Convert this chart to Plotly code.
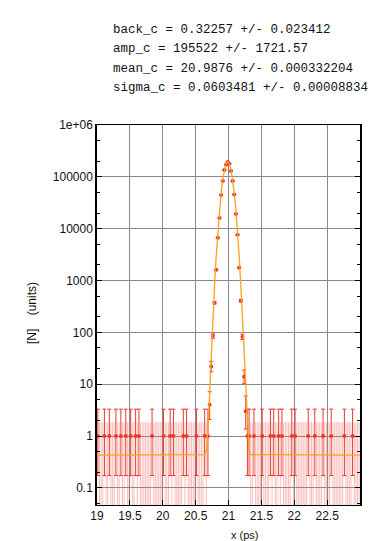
import plotly.graph_objects as go

# ---- data ----
X_MIN = 19.0
BIN_WIDTH = 0.025

left_bkg_counts = [1,0,0,0,1,0,0,1,0,0, 0,1,0,0,1,0,0,1,0,0,
                   1,0,0,1,0,1,0,0,0,0, 0,0,0,1,0,0,0,0,0,0,
                   1,0,0,0,1,0,1,0,0,0, 0,0,1,0,1,0,0,0,0,0,
                   1,0,0,0,0,1,0]
peak_counts = [1, 4, 22, 86, 372, 1607, 6650, 16100, 44800, 83400, 136000, 172000,
               193800, 178000, 130000, 83000, 45500, 19300, 7600, 1760, 406, 82, 14, 3, 1]
right_bkg_counts = [1,0,0,1,0,0,0,0,1,0, 0,0,0,1,0,1,0,0,1,0,
                    1,0,0,0,0,0,1,0,1,0, 0,0,0,0,0,0,1,0,0,0,
                    1,0,0,0,0,1,0,0,0,0, 1,0,0,0,0,0,0,0,1,0,
                    0,0,0,1,0,0,0,0]

fit_x = [19.0, 20.6375, 20.6625, 20.6875, 20.7125, 20.7375, 20.7625, 20.7875, 20.8125,
         20.8375, 20.8625, 20.8875, 20.9125, 20.9375, 20.9625, 20.9875, 21.0125, 21.0375,
         21.0625, 21.0875, 21.1125, 21.1375, 21.1625, 21.1875, 21.2125, 21.2375, 21.2625,
         21.2875, 21.3125, 21.3375, 23.0]
fit_y = [0.43, 0.44, 0.53, 1.25, 6.3, 36.5, 185, 797, 2892, 8840, 22750, 49300, 89970,
         138200, 178950, 195000, 178950, 138200, 89970, 49300, 22750, 8840, 2892, 797,
         185, 36.5, 6.3, 1.25, 0.53, 0.44, 0.43]

param_lines = ["back_c = 0.32257 +/- 0.023412",
               "amp_c = 195522 +/- 1721.57",
               "mean_c = 20.9876 +/- 0.000332204",
               "sigma_c = 0.0603481 +/- 0.00008834"]

x_tickvals = [19, 19.5, 20, 20.5, 21, 21.5, 22, 22.5]
x_ticktext = ["19", "19.5", "20", "20.5", "21", "21.5", "22", "22.5"]
y_tickvals = [0.1, 1, 10, 100, 1000, 10000, 100000, 1000000]
y_ticktext = ["0.1", "1", "10", "100", "1000", "10000", "100000", "1e+06"]

# ---- derived ----
counts = left_bkg_counts + peak_counts + right_bkg_counts
centers = [X_MIN + BIN_WIDTH * (i + 0.5) for i in range(len(counts))]

POISSON = {0: (0.0, 1.841), 1: (0.173, 3.300), 2: (0.708, 4.638),
           3: (1.367, 5.918), 4: (2.086, 7.163), 5: (2.840, 8.382)}

def interval(n):
    if n in POISSON:
        return POISSON[n]
    s = n ** 0.5
    return (n - s, n + s + 1)

zx, zy = [], []
px, py, pup, plo = [], [], [], []
for c, n in zip(centers, counts):
    lo, hi = interval(n)
    if n == 0:
        zx += [c, c, None]
        zy += [0.005, hi, None]
    else:
        px.append(c)
        py.append(n)
        pup.append(hi - n)
        plo.append(n - lo)

RED = "#e8392b"
fig = go.Figure()
fig.add_trace(go.Scatter(x=zx, y=zy, mode="lines",
                         line=dict(color="rgba(240,90,90,0.40)", width=1),
                         hoverinfo="skip", showlegend=False))
fig.add_trace(go.Scatter(x=px, y=py, mode="markers",
                         marker=dict(color=RED, size=4, symbol="circle"),
                         error_y=dict(type="data", symmetric=False, array=pup, arrayminus=plo,
                                      color=RED, thickness=1, width=2),
                         showlegend=False))
fig.add_trace(go.Scatter(x=fit_x, y=fit_y, mode="lines",
                         line=dict(color="#ffa31a", width=1.3), showlegend=False))

annos = []
for i, t in enumerate(param_lines):
    annos.append(dict(text=t, xref="paper", yref="paper",
                      x=(103 - 89) / 263, y=(497 - (22 + 19.3 * i)) / 380,
                      xanchor="left", yanchor="middle", showarrow=False,
                      font=dict(family="Liberation Mono", size=12.5, color="#111")))
annos.append(dict(text="x (ps)", xref="paper", yref="paper", x=(237 - 89) / 263,
                  y=(497 - 527) / 380, xanchor="center", yanchor="middle", showarrow=False,
                  font=dict(family="Liberation Sans", size=11, color="#111")))
annos.append(dict(text="[N]    (units)", xref="paper", yref="paper", x=(24 - 89) / 263,
                  y=(497 - 305) / 380, xanchor="center", yanchor="middle", showarrow=False,
                  textangle=-90,
                  font=dict(family="Liberation Sans", size=12, color="#111")))

fig.update_layout(
    width=378, height=541,
    margin=dict(l=89, r=26, t=117, b=44),
    paper_bgcolor="white", plot_bgcolor="white",
    annotations=annos,
    xaxis=dict(range=[19, 23], tickvals=x_tickvals, ticktext=x_ticktext,
               showgrid=True, gridcolor="#8a8a8a", gridwidth=1,
               showline=True, linecolor="black", linewidth=1, mirror=True,
               ticks="inside", ticklen=5, tickcolor="black", zeroline=False,
               tickfont=dict(family="Liberation Sans", size=12, color="#111")),
    yaxis=dict(type="log", range=[-1.33, 6], tickvals=y_tickvals, ticktext=y_ticktext,
               showgrid=True, gridcolor="#8a8a8a", gridwidth=1,
               showline=True, linecolor="black", linewidth=1.5, mirror="ticks",
               ticks="inside", ticklen=5, tickcolor="black", zeroline=False,
               minor=dict(ticks="inside", ticklen=3, tickcolor="black", showgrid=False),
               tickfont=dict(family="Liberation Sans", size=12, color="#111")),
)

fig.write_html("out.html")
